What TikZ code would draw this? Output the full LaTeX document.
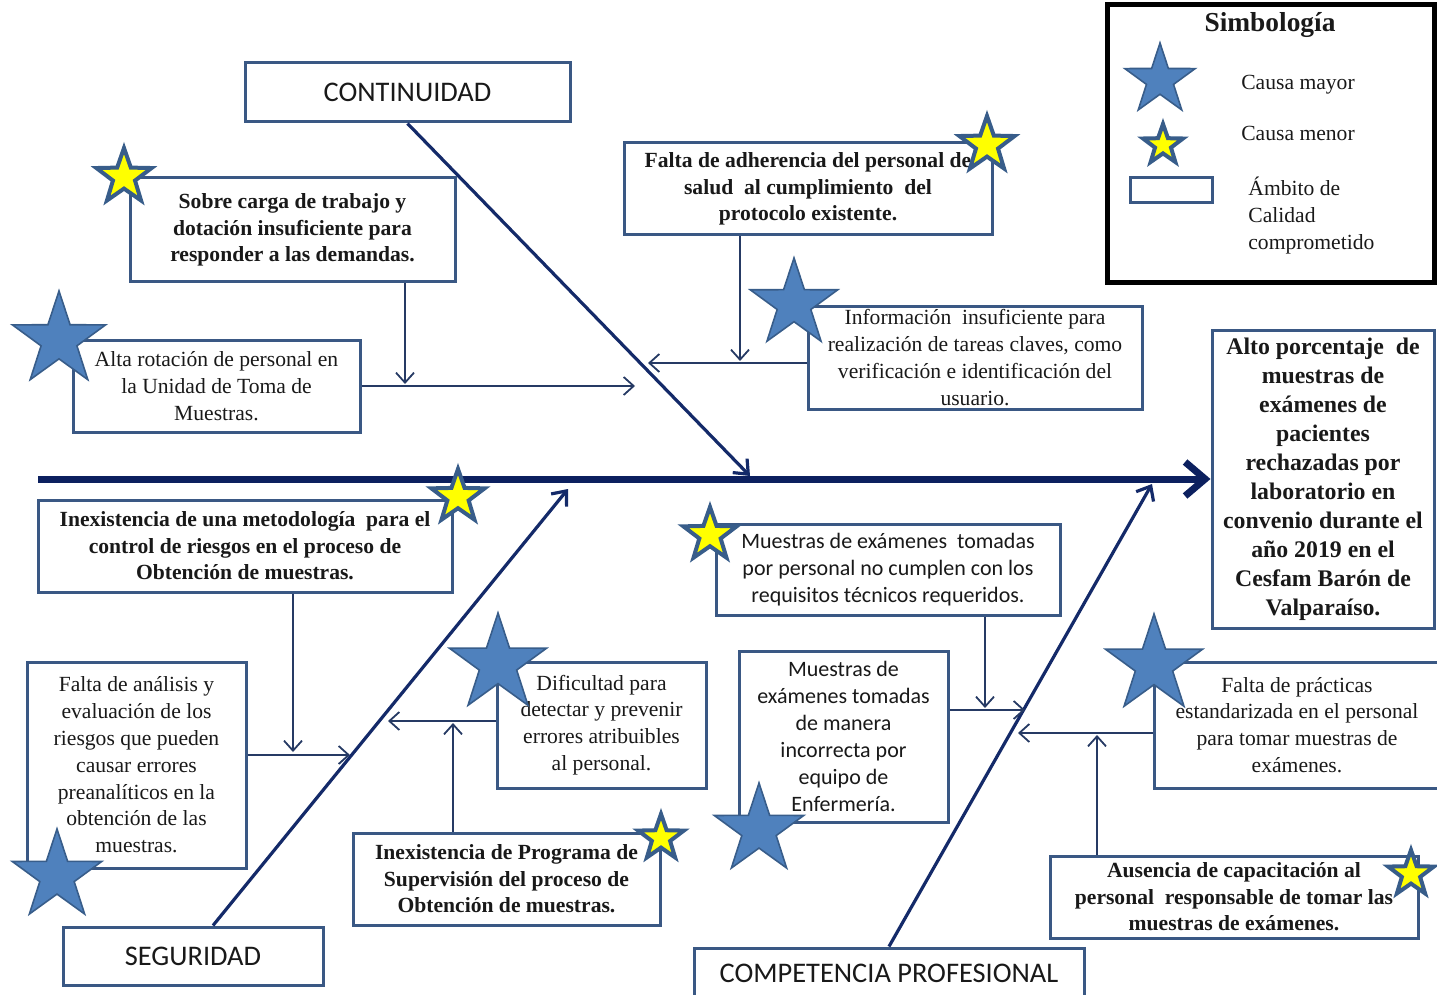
\documentclass[tikz,border=0pt]{standalone}
\usepackage{fontspec}
\setmainfont{Liberation Serif}
\newfontfamily\calibri{Carlito}
\usetikzlibrary{arrows.meta,shapes.geometric,calc}
\definecolor{boxc}{RGB}{58,88,132}
\definecolor{arrc}{RGB}{38,58,100}
\definecolor{navy}{RGB}{20,42,105}
\definecolor{spinec}{RGB}{12,32,95}
\definecolor{starblue}{RGB}{79,129,189}
\definecolor{stardark}{RGB}{56,93,138}
\definecolor{staryel}{RGB}{255,255,0}
\definecolor{txt}{RGB}{25,25,25}
\begin{document}
\begin{tikzpicture}[x=0.5pt,y=-0.5pt,
 box/.style={draw=boxc,line width=1.5pt,fill=white,align=center,inner sep=1pt,text=txt},
 sb/.style={font=\fontsize{10.8}{13.3}\selectfont\bfseries},
 sr/.style={font=\fontsize{10.8}{13.4}\selectfont},
 ss/.style={font=\calibri\fontsize{11}{13.5}\selectfont},
 cat/.style={box,font=\calibri\fontsize{14.2}{16}\selectfont},
 arr/.style={draw=arrc,line width=0.9pt,-{Straight Barb[length=5pt,width=9pt]}},
 bone/.style={draw=navy,line width=1.6pt,-{Straight Barb[length=6pt,width=10pt]}},
 bigstar/.style={star,star points=5,star point ratio=2.6,inner sep=0pt,fill=starblue,draw=stardark,line width=0.8pt},
 smallstar/.style={star,star points=5,star point ratio=2.5,inner sep=0pt,fill=staryel,draw=stardark,line width=2pt},
]
\useasboundingbox (0,0) rectangle (1437,995);

% legend
\node[draw=black,line width=2.5pt,minimum width=163.5pt,minimum height=139pt,inner sep=0pt] (legend) at (1270.5,144) {};
\node[font=\fontsize{13.7}{16}\selectfont\bfseries,text=txt] (legtitle) at (1270,25) {Simbología};
\node[sr,text=txt] (lmayor) at (1298,85) {Causa mayor};
\node[sr,text=txt] (lmenor) at (1298,133) {Causa menor};
\node[draw=boxc,line width=1.5pt,minimum width=41pt,minimum height=12.5pt,inner sep=0pt] (lrect) at (1171,190.5) {};
\node[sr,align=left,anchor=north west,inner sep=0pt,text=txt] (lambito) at (1248,177) {Ámbito de\\Calidad\\comprometido};

% spine and bones
\coordinate (spst) at (38,479);
\coordinate (tc) at (750,476);
\coordinate (ts) at (568,489);
\coordinate (tp) at (1152,484);

\node[box,font=\fontsize{11.9}{14.5}\selectfont\bfseries,minimum width=111pt,minimum height=149pt] (effect) at (1323,479)
 {Alto porcentaje\ \ de\\muestras de\\exámenes de\\pacientes\\rechazadas por\\laboratorio en\\convenio durante el\\año 2019 en\ el\\Cesfam Barón de\\Valparaíso.};

\draw[draw=spinec,line width=3.5pt,-{Straight Barb[length=10pt,width=17pt]}] (spst) -- (effect.west |- spst);

\node[cat,minimum width=162.5pt,minimum height=29.5pt] (cont) at (407.5,92.5) {CONTINUIDAD};
\node[cat,minimum width=130pt,minimum height=29pt] (seg) at (193,956) {SEGURIDAD};
\node[cat,minimum width=195pt,minimum height=25pt] (comp) at (889,973) {COMPETENCIA PROFESIONAL};

\draw[bone] (cont.south) -- (tc);
\draw[bone] ($(seg.north)+(20,0)$) -- (ts);
\draw[bone] (comp.north) -- (tp);

% cause boxes
\node[box,sb,minimum width=162.5pt,minimum height=52pt] (sobre) at (292.5,230) {Sobre carga de trabajo y\\dotación insuficiente para\\responder a las demandas.};
\node[box,sr,minimum width=143.5pt,minimum height=46pt] (alta) at (216.5,386) {Alta rotación de personal en\\la Unidad de Toma de\\Muestras.};
\node[box,sb,minimum width=184pt,minimum height=46pt] (adher) at (808,189) {Falta de adherencia del personal de\\salud\ \ al cumplimiento\ \ del\\protocolo existente.};
\node[box,sr,minimum width=167pt,minimum height=51.5pt] (info) at (975,357.5) {Información\ \ insuficiente para\\realización de tareas claves, como\\verificación e identificación del\\usuario.};
\node[box,sb,minimum width=207pt,minimum height=46pt] (inexm) at (245,546) {Inexistencia de una metodología\ \ para el\\control de riesgos en el proceso de\\Obtención de muestras.};
\node[box,sr,minimum width=109.5pt,minimum height=103pt] (analisis) at (136.5,765) {Falta de análisis y\\evaluación de los\\riesgos que pueden\\causar errores\\preanalíticos en la\\obtención de las\\muestras.};
\node[box,sr,minimum width=104.5pt,minimum height=63pt] (dific) at (601.5,725) {Dificultad para\\detectar y prevenir\\errores atribuibles\\al personal.};
\node[box,sb,minimum width=153.5pt,minimum height=46pt] (inexp) at (506.5,879) {Inexistencia de Programa de\\Supervisión del proceso de\\Obtención de muestras.};
\node[box,ss,minimum width=172pt,minimum height=45.5pt] (mtom) at (888,569.5) {Muestras de exámenes\ \ tomadas\\por personal no cumplen con los\\requisitos técnicos requeridos.};
\node[box,ss,minimum width=104.5pt,minimum height=85.5pt] (mman) at (843.5,736.5) {Muestras de\\exámenes tomadas\\de manera\\incorrecta por\\equipo de\\Enfermería.};
\node[box,sr,minimum width=143pt,minimum height=63pt] (pract) at (1297,725) {Falta de prácticas\\estandarizada en el personal\\para tomar muestras de\\exámenes.};
\node[box,sb,minimum width=184pt,minimum height=41pt] (ausen) at (1234,897) {Ausencia de capacitación al\\personal\ \ responsable de tomar las\\muestras de exámenes.};

% arrow end points
\coordinate (c1) at (405,384);
\coordinate (c2) at (635,386);
\coordinate (c3) at (740,361);
\coordinate (c4) at (648,363);
\coordinate (c5) at (293,752);
\coordinate (c6) at (350,755);
\coordinate (c7) at (388,721);
\coordinate (c8) at (453,723);
\coordinate (c9) at (985,708);
\coordinate (c10) at (1025,710);
\coordinate (c11) at (1018,733);
\coordinate (c12) at (1097,735);

\draw[arr] (sobre.south -| c1) -- (c1);
\draw[arr] (alta.east |- c2) -- (c2);
\draw[arr] (adher.south -| c3) -- (c3);
\draw[arr] (info.west |- c4) -- (c4);
\draw[arr] (inexm.south -| c5) -- (c5);
\draw[arr] (analisis.east |- c6) -- (c6);
\draw[arr] (dific.west |- c7) -- (c7);
\draw[arr] (inexp.north -| c8) -- (c8);
\draw[arr] (mtom.south -| c9) -- (c9);
\draw[arr] (mman.east |- c10) -- (c10);
\draw[arr] (pract.west |- c11) -- (c11);
\draw[arr] (ausen.north -| c12) -- (c12);

% stars
\node[bigstar,minimum size=37pt] (lbig) at (1160,80) {};
\node[smallstar,minimum size=21pt] (lsmall) at (1163,145) {};
\node[smallstar,minimum size=29pt] (s1) at (124,177) {};
\node[bigstar,minimum size=49pt] (s2) at (59,340) {};
\node[smallstar,minimum size=29pt] (s3) at (987,145) {};
\node[bigstar,minimum size=46pt] (s4) at (794,304) {};
\node[smallstar,minimum size=28pt] (s5) at (458,497) {};
\node[bigstar,minimum size=47pt] (s6) at (57,876) {};
\node[bigstar,minimum size=51pt] (s7) at (498,664) {};
\node[smallstar,minimum size=24pt] (s8) at (661,838) {};
\node[smallstar,minimum size=28pt] (s9) at (710,535) {};
\node[bigstar,minimum size=47pt] (s10) at (759,830) {};
\node[bigstar,minimum size=51pt] (s11) at (1154,665) {};
\node[smallstar,minimum size=24pt] (s12) at (1411,874) {};
\end{tikzpicture}
\end{document}
